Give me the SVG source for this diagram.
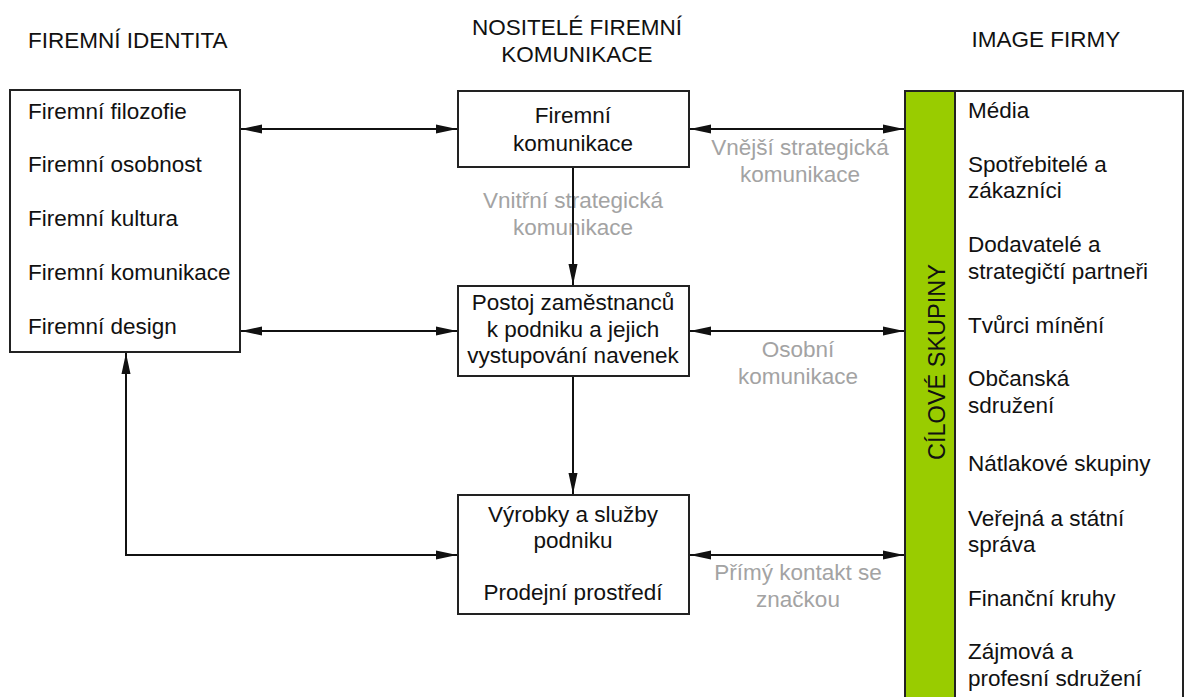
<svg xmlns="http://www.w3.org/2000/svg" width="1187" height="697" viewBox="0 0 1187 697">
<style>
text{font-family:"Liberation Sans",Arial,sans-serif;font-size:22.5px;fill:#111}
.c{text-anchor:middle}
.g{fill:#a3a3a3;text-anchor:middle}
.box{fill:#fff;stroke:#222;stroke-width:2}
.ln{fill:none;stroke:#111;stroke-width:2}
</style>
<defs>
<marker id="ah" markerUnits="userSpaceOnUse" markerWidth="22" markerHeight="12" refX="21" refY="6" orient="auto-start-reverse">
<path d="M0,1.5 L21,6 L0,10.5 Z" fill="#111"/>
</marker>
</defs>
<rect width="1187" height="697" fill="#fff"/>
<g id="headers">
<text x="28" y="48">FIREMNÍ IDENTITA</text>
<text class="c" x="577" y="35">NOSITELÉ FIREMNÍ</text>
<text class="c" x="577" y="62">KOMUNIKACE</text>
<text class="c" x="1046" y="47">IMAGE FIRMY</text>
</g>
<g id="labels">
<text class="g" x="800" y="155">Vnější strategická</text>
<text class="g" x="800" y="182">komunikace</text>
<text class="g" x="573" y="208">Vnitřní strategická</text>
<text class="g" x="573" y="235">komunikace</text>
<text class="g" x="798" y="357">Osobní</text>
<text class="g" x="798" y="384">komunikace</text>
<text class="g" x="798" y="580">Přímý kontakt se</text>
<text class="g" x="798" y="607">značkou</text>
</g>
<g id="identity">
<rect class="box" x="10" y="90" width="230" height="262"/>
<text x="28" y="119">Firemní filozofie</text>
<text x="28" y="172">Firemní osobnost</text>
<text x="28" y="226">Firemní kultura</text>
<text x="28" y="280">Firemní komunikace</text>
<text x="28" y="334">Firemní design</text>
</g>
<g id="komunikace">
<rect class="box" x="458" y="91" width="231" height="76"/>
<text class="c" x="573" y="123">Firemní</text>
<text class="c" x="573" y="151">komunikace</text>
</g>
<g id="postoj">
<rect class="box" x="458" y="286" width="231" height="90"/>
<text class="c" x="573" y="310">Postoj zaměstnanců</text>
<text class="c" x="573" y="337">k podniku a jejich</text>
<text class="c" x="573" y="363">vystupování navenek</text>
</g>
<g id="vyrobky">
<rect class="box" x="458" y="495" width="231" height="119"/>
<text class="c" x="573" y="522">Výrobky a služby</text>
<text class="c" x="573" y="548">podniku</text>
<text class="c" x="573" y="600">Prodejní prostředí</text>
</g>
<g id="cilove">
<rect x="905" y="91" width="50" height="620" fill="#99cc00" stroke="#222" stroke-width="2"/>
<text class="c" transform="translate(945,362) rotate(-90)" x="0" y="0" style="font-size:23.5px">CÍLOVÉ SKUPINY</text>
</g>
<g id="image">
<rect class="box" x="955" y="91" width="228" height="620"/>
<text x="968" y="118">Média</text>
<text x="968" y="172">Spotřebitelé a</text>
<text x="968" y="198">zákazníci</text>
<text x="968" y="252">Dodavatelé a</text>
<text x="968" y="279">strategičtí partneři</text>
<text x="968" y="333">Tvůrci mínění</text>
<text x="968" y="386">Občanská</text>
<text x="968" y="413">sdružení</text>
<text x="968" y="471">Nátlakové skupiny</text>
<text x="968" y="526">Veřejná a státní</text>
<text x="968" y="552">správa</text>
<text x="968" y="606">Finanční kruhy</text>
<text x="968" y="659">Zájmová a</text>
<text x="968" y="686">profesní sdružení</text>
</g>
<g id="connectors">
<path class="ln" d="M241,129 H457" marker-start="url(#ah)" marker-end="url(#ah)"/>
<path class="ln" d="M241,331 H457" marker-start="url(#ah)" marker-end="url(#ah)"/>
<path class="ln" d="M690,129 H904" marker-start="url(#ah)" marker-end="url(#ah)"/>
<path class="ln" d="M690,331 H904" marker-start="url(#ah)" marker-end="url(#ah)"/>
<path class="ln" d="M690,555 H904" marker-start="url(#ah)" marker-end="url(#ah)"/>
<path class="ln" d="M573,168 V285" marker-end="url(#ah)"/>
<path class="ln" d="M573,377 V494" marker-end="url(#ah)"/>
<path class="ln" d="M457,555 H126 V353" marker-start="url(#ah)" marker-end="url(#ah)"/>
</g>
</svg>
